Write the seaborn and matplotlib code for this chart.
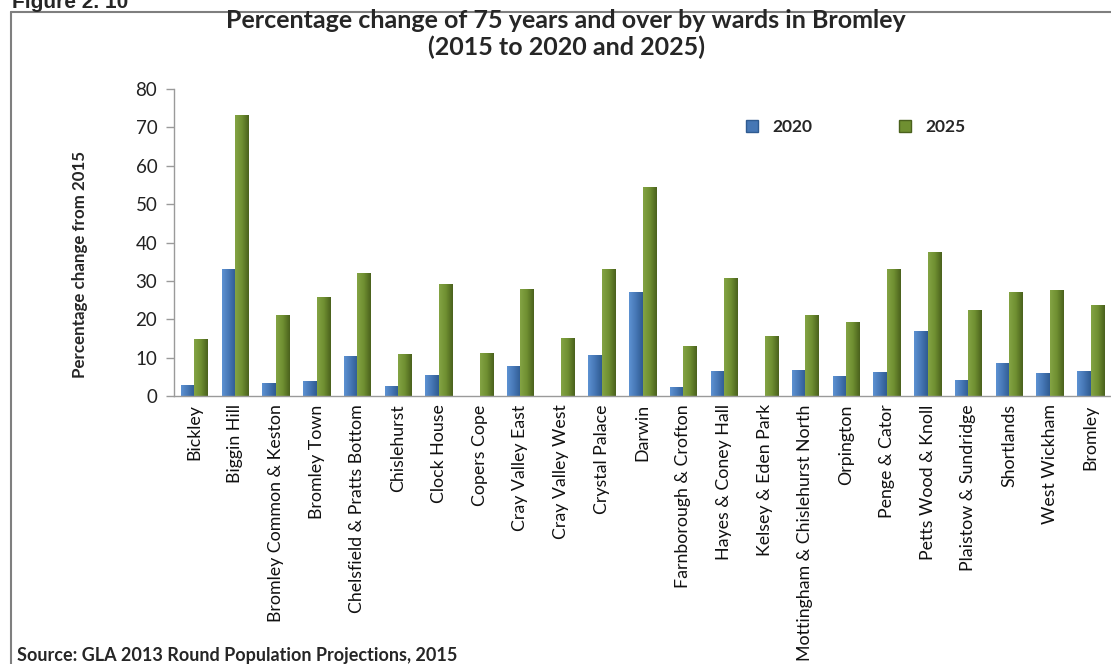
import numpy as np
import pandas as pd
import matplotlib
matplotlib.use("Agg")
import matplotlib.pyplot as plt
import seaborn as sns
from matplotlib.lines import Line2D
from matplotlib.colors import LinearSegmentedColormap

wards = ["Bickley", "Biggin Hill", "Bromley Common & Keston", "Bromley Town",
         "Chelsfield & Pratts Bottom", "Chislehurst", "Clock House", "Copers Cope",
         "Cray Valley East", "Cray Valley West", "Crystal Palace", "Darwin",
         "Farnborough & Crofton", "Hayes & Coney Hall", "Kelsey & Eden Park",
         "Mottingham & Chislehurst North", "Orpington", "Penge & Cator",
         "Petts Wood & Knoll", "Plaistow & Sundridge", "Shortlands", "West Wickham",
         "Bromley"]
change_2020 = [2.9, 33.2, 3.3, 4.0, 10.3, 2.5, 5.6, 0.0, 7.8, 0.0, 10.8, 27.0,
               2.3, 6.5, 0.0, 6.8, 5.1, 6.3, 17.0, 4.2, 8.7, 5.9, 6.5]
change_2025 = [14.8, 73.3, 21.1, 25.9, 32.0, 11.0, 29.2, 11.2, 27.8, 15.0, 33.1, 54.4,
               12.9, 30.8, 15.7, 21.1, 19.2, 33.1, 37.6, 22.3, 27.0, 27.7, 23.7]
series = ["2020", "2025"]
y_ticks = [0, 10, 20, 30, 40, 50, 60, 70, 80]

df = pd.DataFrame({
    "Ward": wards * 2,
    "Year": [series[0]] * len(wards) + [series[1]] * len(wards),
    "Change": change_2020 + change_2025,
})

sns.set_style("white")
plt.rcParams["font.family"] = ["Lato", "DejaVu Sans"]

colors = {"2020": "#4677b5", "2025": "#6f8f31"}
grad = {"2020": ("#5d92d2", "#2f5b91"), "2025": ("#84a444", "#4a611d")}

fig = plt.figure(figsize=(11.11, 6.64), dpi=100)
ax = fig.add_axes([174 / 1111, 1 - 396 / 664, (1111 - 174) / 1111, (396 - 89) / 664])

sns.barplot(data=df, x="Ward", y="Change", hue="Year", palette=colors,
            width=0.66, ax=ax, legend=False, saturation=1, linewidth=0)

# gradient shading on each bar (3D Excel-like look)
n = len(wards)
for i, patch in enumerate(ax.patches):
    yr = series[0] if i < n else series[1]
    c0, c1 = grad[yr]
    cmap = LinearSegmentedColormap.from_list("g", [c0, colors[yr], c1])
    x0, y0 = patch.get_x(), patch.get_y()
    w, h = patch.get_width(), patch.get_height()
    if h <= 0:
        continue
    im = ax.imshow(np.linspace(0, 1, 64).reshape(1, -1), cmap=cmap, aspect="auto",
                   extent=[x0, x0 + w, y0, y0 + h], zorder=patch.get_zorder() + 0.1,
                   interpolation="bilinear")
    im.set_clip_path(patch)

ax.set_xlim(-0.5, n - 0.5)
ax.set_ylim(0, 80)
ax.set_yticks(y_ticks)
ax.set_yticklabels([str(t) for t in y_ticks], fontsize=13.5, color="#222222")
ax.set_xticks(range(n))
ax.set_xticklabels(wards, rotation=90, fontsize=12.8, color="#111111")
ax.set_xticks(np.arange(-0.5, n, 1), minor=True)
ax.tick_params(axis="x", which="major", length=0, pad=6)
ax.tick_params(axis="x", which="minor", length=6, color="#9a9a9a", width=1)
ax.tick_params(axis="y", length=6, color="#9a9a9a", width=1, pad=6, left=True)
ax.set_xlabel("")
ax.set_ylabel("")
for s in ["top", "right"]:
    ax.spines[s].set_visible(False)
for s in ["left", "bottom"]:
    ax.spines[s].set_color("#9a9a9a")
    ax.spines[s].set_linewidth(1)

handles = [plt.Line2D([], [], marker="s", linestyle="", markersize=8,
                      markerfacecolor=colors[s], markeredgecolor=grad[s][1]) for s in series]
leg = fig.legend(handles, series, loc="center", bbox_to_anchor=(850 / 1111, 1 - 127 / 664),
                 ncol=2, frameon=False, columnspacing=4.3, handletextpad=0.2,
                 prop={"weight": "bold", "size": 12.5})

fig.text(566 / 1111, 1 - 34 / 664,
         "Percentage change of 75 years and over by wards in Bromley\n(2015 to 2020 and 2025)",
         ha="center", va="center", fontsize=18, fontweight="bold", linespacing=1.15)
fig.text(80 / 1111, 1 - 264 / 664, "Percentage change from 2015", rotation=90,
         ha="center", va="center", fontsize=12.2, fontweight="bold")
fig.text(17 / 1111, 1 - 656 / 664, "Source: GLA 2013 Round Population Projections, 2015",
         ha="left", va="center", fontsize=13, fontweight="bold")
fig.text(12 / 1111, 1 - 2 / 664, "Figure 2. 10", ha="left", va="center",
         fontsize=15, fontweight="bold", family=["Liberation Sans", "DejaVu Sans"])

# outer frame
fig.add_artist(Line2D([11 / 1111, 1.0], [1 - 12 / 664, 1 - 12 / 664],
                      transform=fig.transFigure, color="#7f7f7f", lw=1.5))
fig.add_artist(Line2D([11 / 1111, 11 / 1111], [1 - 12 / 664, 0.0],
                      transform=fig.transFigure, color="#7f7f7f", lw=1.5))

fig.savefig("out.png", dpi=100)
